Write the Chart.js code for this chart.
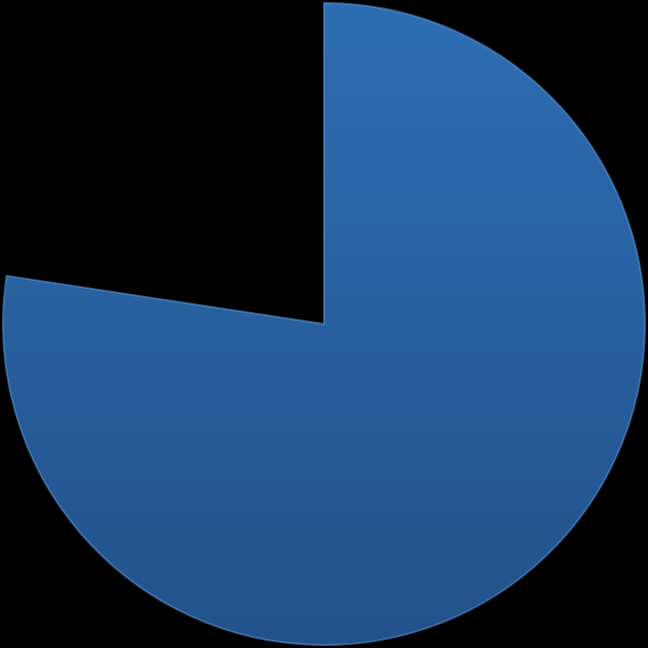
<!DOCTYPE html>
<html>
<head>
<meta charset="utf-8">
<script src="https://cdn.jsdelivr.net/npm/chart.js@4/dist/chart.umd.min.js"></script>
<style>
html,body{margin:0;padding:0;background:#000;}
#wrap{width:648px;height:648px;}
</style>
</head>
<body>
<div id="wrap"><canvas id="c" width="648" height="648"></canvas></div>
<script>
const categories = ["A", "B"];
const values = [77.4, 22.6];

function sliceFill(ctx) {
  const chart = ctx.chart;
  const area = chart.chartArea;
  if (!area) return '#2a64a6';
  if (ctx.dataIndex === 1) return 'rgba(0,0,0,0)';
  const g = chart.ctx.createLinearGradient(0, area.top, 0, area.bottom);
  g.addColorStop(0, '#2d6eb3');
  g.addColorStop(0.5, '#285f9e');
  g.addColorStop(1, '#22528a');
  return g;
}

new Chart(document.getElementById('c'), {
  type: 'pie',
  data: {
    labels: categories,
    datasets: [{
      data: values,
      backgroundColor: sliceFill,
      borderColor: ['rgba(90,150,215,0.55)', 'rgba(0,0,0,0)'],
      borderWidth: [2, 0],
      borderJoinStyle: 'miter'
    }]
  },
  options: {
    responsive: false,
    animation: false,
    devicePixelRatio: 1,
    layout: { padding: 2 },
    plugins: { legend: { display: false }, tooltip: { enabled: false } }
  }
});
</script>
</body>
</html>
